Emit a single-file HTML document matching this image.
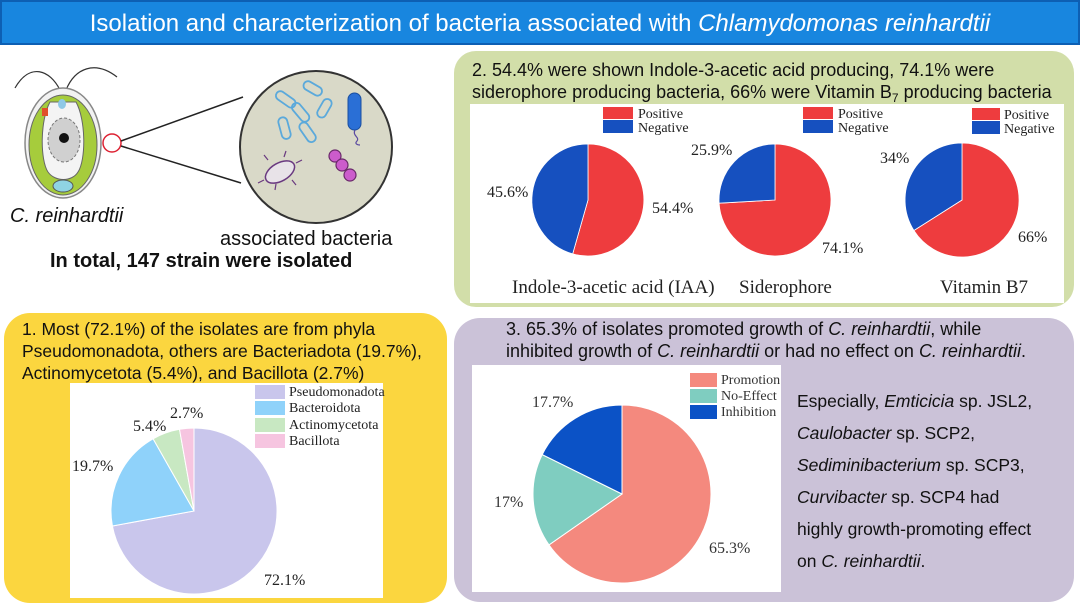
<!DOCTYPE html>
<html><head><meta charset="utf-8"><style>
html,body{margin:0;padding:0;background:#fff;}
body{width:1080px;height:604px;overflow:hidden;position:relative;font-family:"Liberation Sans",Arial,sans-serif;}
svg{position:absolute;left:0;top:0;}
</style></head><body>
<svg width="1080" height="604" viewBox="0 0 1080 604" xmlns="http://www.w3.org/2000/svg">
<rect x="0" y="0" width="1080" height="45" fill="#1886df"/>
<rect x="1" y="1" width="1078" height="43" fill="none" stroke="#0d5fb3" stroke-width="2"/>
<text x="540" y="31" text-anchor="middle" font-size="24" fill="#fff" font-family="Liberation Sans, sans-serif">Isolation and characterization of bacteria associated with <tspan font-style="italic">Chlamydomonas reinhardtii</tspan></text>

<path d="M60,90 C50,70 30,62 15,88" fill="none" stroke="#333" stroke-width="1.2"/>
<path d="M66,90 C75,68 95,60 117,77" fill="none" stroke="#333" stroke-width="1.2"/>
<ellipse cx="63" cy="143" rx="38" ry="55" fill="#f2f2f2" stroke="#888" stroke-width="1.5"/>
<ellipse cx="63" cy="145" rx="34" ry="50" fill="#a6cc3c" stroke="#666" stroke-width="1"/>
<path d="M50,102 C40,120 40,160 48,172 C55,182 72,182 78,172 C86,160 86,120 76,102 Z" fill="#f4f4f4" stroke="#666" stroke-width="1"/>
<ellipse cx="64" cy="140" rx="16" ry="22" fill="#d0d0d0" stroke="#777" stroke-dasharray="3,2"/>
<circle cx="64" cy="138" r="5" fill="#111"/>
<ellipse cx="63" cy="186" rx="10" ry="6" fill="#8fd3e3" stroke="#555"/>
<ellipse cx="62" cy="104" rx="4" ry="5" fill="#8fc9e6"/>
<rect x="42" y="108" width="6" height="8" fill="#e0502a"/>
<circle cx="112" cy="143" r="9" fill="none" stroke="#d23" stroke-width="1.5"/>
<line x1="121" y1="141" x2="243" y2="97" stroke="#222" stroke-width="1.5"/>
<line x1="121" y1="146" x2="241" y2="183" stroke="#222" stroke-width="1.5"/>
<circle cx="316" cy="147" r="76" fill="#d9d9c8" stroke="#333" stroke-width="2"/>
<g fill="none" stroke="#5ba9db" stroke-width="1.8">
<rect x="275" y="95" width="22" height="9" rx="4.5" transform="rotate(35 286 99)"/>
<rect x="303" y="84" width="20" height="9" rx="4.5" transform="rotate(30 313 88)"/>
<rect x="290" y="108" width="22" height="9" rx="4.5" transform="rotate(50 301 112)"/>
<rect x="274" y="124" width="22" height="9" rx="4.5" transform="rotate(75 285 128)"/>
<rect x="297" y="128" width="22" height="9" rx="4.5" transform="rotate(55 308 132)"/>
<rect x="314" y="104" width="20" height="9" rx="4.5" transform="rotate(-60 324 108)"/>
</g>
<rect x="348" y="93" width="13" height="37" rx="6.5" fill="#2a6fd6" stroke="#1a4fa0"/>
<path d="M355,130 C352,136 360,137 357,141 C354,144 358,145 360,145" fill="none" stroke="#5a4aa0" stroke-width="1.2"/>
<ellipse cx="280" cy="172" rx="16" ry="9" fill="#e8e3e8" stroke="#6a3a80" stroke-width="1.5" transform="rotate(-30 280 172)"/>
<g stroke="#6a3a80" stroke-width="1.2"><line x1="268" y1="160" x2="264" y2="155"/><line x1="284" y1="157" x2="286" y2="151"/><line x1="296" y1="163" x2="302" y2="160"/><line x1="292" y1="180" x2="296" y2="185"/><line x1="276" y1="184" x2="275" y2="190"/><line x1="264" y1="180" x2="258" y2="183"/></g>
<g fill="#cc5ccc" stroke="#6a2a6a" stroke-width="1.2"><circle cx="335" cy="156" r="6"/><circle cx="342" cy="165" r="6"/><circle cx="350" cy="175" r="6"/></g>
<text x="10" y="222" font-size="20" font-style="italic" fill="#111">C. reinhardtii</text>
<text x="220" y="245" font-size="20" fill="#111">associated bacteria</text>
<text x="50" y="267" font-size="20" font-weight="bold" fill="#111">In total, 147 strain were isolated</text>

<rect x="454" y="51" width="620" height="256" rx="22" fill="#d2dea9"/>
<text x="472" y="76" font-size="18" fill="#111">2. 54.4% were shown Indole-3-acetic acid producing, 74.1% were</text>
<text x="472" y="98" font-size="18" fill="#111">siderophore producing bacteria, 66% were Vitamin B<tspan font-size="12" dy="4">7</tspan><tspan dy="-4"> producing bacteria</tspan></text>
<rect x="470" y="104" width="594" height="199" fill="#fff"/>
<g font-family="Liberation Serif, serif" fill="#222">
<path d="M588,200 L588,144 A56,56 0 1 1 572.7,253.9 Z" fill="#ee3c3e" stroke="#fff" stroke-width="0.8"/>
<path d="M588,200 L572.7,253.9 A56,56 0 0 1 588,144 Z" fill="#1650bf" stroke="#fff" stroke-width="0.8"/>
<rect x="603" y="107" width="30" height="12" fill="#ee3c3e"/><rect x="603" y="120" width="30" height="13" fill="#1650bf"/>
<text x="638" y="118" font-size="14">Positive</text><text x="638" y="132" font-size="14">Negative</text>
<text x="487" y="197" font-size="16">45.6%</text><text x="652" y="213" font-size="16">54.4%</text>
<text x="512" y="293" font-size="19">Indole-3-acetic acid (IAA)</text>
<path d="M775,200 L775,144 A56,56 0 1 1 719.1,203.2 Z" fill="#ee3c3e" stroke="#fff" stroke-width="0.8"/>
<path d="M775,200 L719.1,203.2 A56,56 0 0 1 775,144 Z" fill="#1650bf" stroke="#fff" stroke-width="0.8"/>
<rect x="803" y="107" width="30" height="12" fill="#ee3c3e"/><rect x="803" y="120" width="30" height="13" fill="#1650bf"/>
<text x="838" y="118" font-size="14">Positive</text><text x="838" y="132" font-size="14">Negative</text>
<text x="691" y="155" font-size="16">25.9%</text><text x="822" y="253" font-size="16">74.1%</text>
<text x="739" y="293" font-size="19">Siderophore</text>
<path d="M962,200 L962,143 A57,57 0 1 1 913.9,230.5 Z" fill="#ee3c3e" stroke="#fff" stroke-width="0.8"/>
<path d="M962,200 L913.9,230.5 A57,57 0 0 1 962,143 Z" fill="#1650bf" stroke="#fff" stroke-width="0.8"/>
<rect x="972" y="108" width="28" height="12" fill="#ee3c3e"/><rect x="972" y="121" width="28" height="13" fill="#1650bf"/>
<text x="1004" y="119" font-size="14">Positive</text><text x="1004" y="133" font-size="14">Negative</text>
<text x="880" y="163" font-size="16">34%</text><text x="1018" y="242" font-size="16">66%</text>
<text x="940" y="293" font-size="19">Vitamin B7</text>
</g>

<rect x="4" y="313" width="443" height="290" rx="26" fill="#fbd63f"/>
<text x="22" y="335" font-size="17.5" fill="#111">1. Most (72.1%) of the isolates are from phyla</text>
<text x="22" y="357" font-size="17.5" fill="#111">Pseudomonadota, others are Bacteriadota (19.7%),</text>
<text x="22" y="379" font-size="17.5" fill="#111">Actinomycetota (5.4%), and Bacillota (2.7%)</text>
<rect x="70" y="383" width="313" height="215" fill="#fff"/>
<g font-family="Liberation Serif, serif" fill="#222">
<path d="M194,511 L194,428 A83,83 0 1 1 112.4,526 Z" fill="#c9c6ec" stroke="#fff" stroke-width="1"/>
<path d="M194,511 L112.4,526 A83,83 0 0 1 153.1,438.8 Z" fill="#8fd2fa" stroke="#fff" stroke-width="1"/>
<path d="M194,511 L153.1,438.8 A83,83 0 0 1 179.5,429.3 Z" fill="#c8e8c2" stroke="#fff" stroke-width="1"/>
<path d="M194,511 L179.5,429.3 A83,83 0 0 1 194,428 Z" fill="#f6c5e0" stroke="#fff" stroke-width="1"/>
<rect x="255" y="385" width="30" height="14" fill="#c9c6ec"/>
<rect x="255" y="401" width="30" height="14" fill="#8fd2fa"/>
<rect x="255" y="418" width="30" height="14" fill="#c8e8c2"/>
<rect x="255" y="434" width="30" height="14" fill="#f6c5e0"/>
<text x="289" y="396" font-size="14">Pseudomonadota</text>
<text x="289" y="412" font-size="14">Bacteroidota</text>
<text x="289" y="429" font-size="14">Actinomycetota</text>
<text x="289" y="445" font-size="14">Bacillota</text>
<text x="170" y="418" font-size="16">2.7%</text>
<text x="133" y="431" font-size="16">5.4%</text>
<text x="72" y="471" font-size="16">19.7%</text>
<text x="264" y="585" font-size="16">72.1%</text>
</g>

<rect x="454" y="318" width="620" height="284" rx="26" fill="#cbc2d8"/>
<text x="506" y="335" font-size="18" fill="#111">3. 65.3% of isolates promoted growth of <tspan font-style="italic">C. reinhardtii</tspan>, while</text>
<text x="506" y="357" font-size="18" fill="#111">inhibited growth of <tspan font-style="italic">C. reinhardtii</tspan> or had no effect on <tspan font-style="italic">C. reinhardtii</tspan>.</text>
<rect x="472" y="365" width="309" height="227" fill="#fff"/>
<g font-family="Liberation Serif, serif" fill="#333">
<path d="M622,494 L622,405 A89,89 0 1 1 549,544.9 Z" fill="#f4897e" stroke="#fff" stroke-width="1"/>
<path d="M622,494 L549,544.9 A89,89 0 0 1 542.2,454.6 Z" fill="#7fcdc0" stroke="#fff" stroke-width="1"/>
<path d="M622,494 L542.2,454.6 A89,89 0 0 1 622,405 Z" fill="#0b52c6" stroke="#fff" stroke-width="1"/>
<rect x="690" y="373" width="27" height="14" fill="#f4897e"/>
<rect x="690" y="389" width="27" height="14" fill="#7fcdc0"/>
<rect x="690" y="405" width="27" height="14" fill="#0b52c6"/>
<text x="721" y="384" font-size="14">Promotion</text>
<text x="721" y="400" font-size="14">No-Effect</text>
<text x="721" y="416" font-size="14">Inhibition</text>
<text x="532" y="407" font-size="16">17.7%</text>
<text x="494" y="507" font-size="16">17%</text>
<text x="709" y="553" font-size="16">65.3%</text>
</g>
<g font-size="17.5" fill="#111">
<text x="797" y="407">Especially, <tspan font-style="italic">Emticicia</tspan> sp. JSL2,</text>
<text x="797" y="439"><tspan font-style="italic">Caulobacter</tspan> sp. SCP2,</text>
<text x="797" y="471"><tspan font-style="italic">Sediminibacterium</tspan> sp. SCP3,</text>
<text x="797" y="503"><tspan font-style="italic">Curvibacter</tspan> sp. SCP4 had</text>
<text x="797" y="535">highly growth-promoting effect</text>
<text x="797" y="567">on <tspan font-style="italic">C. reinhardtii</tspan>.</text>
</g>
</svg>
</body></html>
